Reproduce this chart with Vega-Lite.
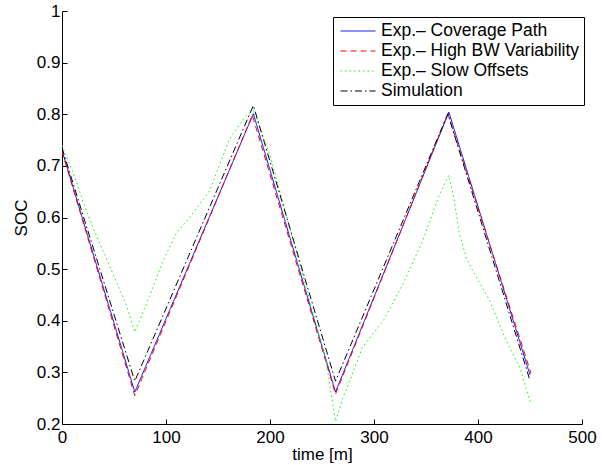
{
  "$schema": "https://vega.github.io/schema/vega-lite/v6.json",
  "width": 520,
  "height": 413,
  "autosize": {"type": "none"},
  "padding": {"left": 62, "top": 11, "right": 20, "bottom": 41},
  "background": "white",
  "config": {
    "view": {"stroke": null},
    "font": "Liberation Sans",
    "axis": {
      "grid": false,
      "domainColor": "black",
      "domainWidth": 1,
      "tickColor": "black",
      "tickWidth": 1,
      "tickSize": -5,
      "labelFont": "Liberation Sans",
      "labelFontSize": 17,
      "labelColor": "black",
      "titleFont": "Liberation Sans",
      "titleFontSize": 17,
      "titleFontWeight": "normal",
      "titleColor": "black"
    }
  },
  "data": {
    "values": [
      {"series": "Exp.– Coverage Path", "t": 0, "soc": 0.73},
      {"series": "Exp.– Coverage Path", "t": 70, "soc": 0.262},
      {"series": "Exp.– Coverage Path", "t": 184, "soc": 0.801},
      {"series": "Exp.– Coverage Path", "t": 263, "soc": 0.262},
      {"series": "Exp.– Coverage Path", "t": 372, "soc": 0.804},
      {"series": "Exp.– Coverage Path", "t": 450, "soc": 0.295},
      {"series": "Exp.– High BW Variability", "t": 0, "soc": 0.728},
      {"series": "Exp.– High BW Variability", "t": 70, "soc": 0.255},
      {"series": "Exp.– High BW Variability", "t": 183, "soc": 0.798},
      {"series": "Exp.– High BW Variability", "t": 263, "soc": 0.258},
      {"series": "Exp.– High BW Variability", "t": 371, "soc": 0.801},
      {"series": "Exp.– High BW Variability", "t": 451, "soc": 0.298},
      {"series": "Exp.– Slow Offsets", "t": 0, "soc": 0.74},
      {"series": "Exp.– Slow Offsets", "t": 10, "soc": 0.69},
      {"series": "Exp.– Slow Offsets", "t": 26, "soc": 0.598},
      {"series": "Exp.– Slow Offsets", "t": 46, "soc": 0.505},
      {"series": "Exp.– Slow Offsets", "t": 62, "soc": 0.43},
      {"series": "Exp.– Slow Offsets", "t": 70, "soc": 0.378},
      {"series": "Exp.– Slow Offsets", "t": 84, "soc": 0.447},
      {"series": "Exp.– Slow Offsets", "t": 97, "soc": 0.515},
      {"series": "Exp.– Slow Offsets", "t": 110, "soc": 0.57},
      {"series": "Exp.– Slow Offsets", "t": 122, "soc": 0.598},
      {"series": "Exp.– Slow Offsets", "t": 132, "soc": 0.625},
      {"series": "Exp.– Slow Offsets", "t": 142, "soc": 0.652},
      {"series": "Exp.– Slow Offsets", "t": 161, "soc": 0.752},
      {"series": "Exp.– Slow Offsets", "t": 176, "soc": 0.795},
      {"series": "Exp.– Slow Offsets", "t": 184, "soc": 0.808},
      {"series": "Exp.– Slow Offsets", "t": 200, "soc": 0.72},
      {"series": "Exp.– Slow Offsets", "t": 238, "soc": 0.44},
      {"series": "Exp.– Slow Offsets", "t": 254, "soc": 0.322},
      {"series": "Exp.– Slow Offsets", "t": 263, "soc": 0.205},
      {"series": "Exp.– Slow Offsets", "t": 270, "soc": 0.25},
      {"series": "Exp.– Slow Offsets", "t": 277, "soc": 0.285},
      {"series": "Exp.– Slow Offsets", "t": 289, "soc": 0.349},
      {"series": "Exp.– Slow Offsets", "t": 309, "soc": 0.4},
      {"series": "Exp.– Slow Offsets", "t": 328, "soc": 0.472},
      {"series": "Exp.– Slow Offsets", "t": 347, "soc": 0.556},
      {"series": "Exp.– Slow Offsets", "t": 363, "soc": 0.645},
      {"series": "Exp.– Slow Offsets", "t": 372, "soc": 0.682},
      {"series": "Exp.– Slow Offsets", "t": 377, "soc": 0.635},
      {"series": "Exp.– Slow Offsets", "t": 382, "soc": 0.569},
      {"series": "Exp.– Slow Offsets", "t": 389, "soc": 0.52},
      {"series": "Exp.– Slow Offsets", "t": 395, "soc": 0.497},
      {"series": "Exp.– Slow Offsets", "t": 411, "soc": 0.44},
      {"series": "Exp.– Slow Offsets", "t": 427, "soc": 0.362},
      {"series": "Exp.– Slow Offsets", "t": 440, "soc": 0.31},
      {"series": "Exp.– Slow Offsets", "t": 451, "soc": 0.238},
      {"series": "Simulation", "t": 0, "soc": 0.735},
      {"series": "Simulation", "t": 70, "soc": 0.283},
      {"series": "Simulation", "t": 184, "soc": 0.817},
      {"series": "Simulation", "t": 263, "soc": 0.283},
      {"series": "Simulation", "t": 371, "soc": 0.801},
      {"series": "Simulation", "t": 450, "soc": 0.284}
    ]
  },
  "mark": {"type": "line", "strokeWidth": 1, "clip": true},
  "encoding": {
    "x": {
      "field": "t",
      "type": "quantitative",
      "scale": {"domain": [0, 500], "nice": false, "zero": false},
      "axis": {"values": [0, 100, 200, 300, 400, 500], "title": "time [m]", "labelPadding": 10, "titlePadding": 1, "labelFlush": false}
    },
    "y": {
      "field": "soc",
      "type": "quantitative",
      "scale": {"domain": [0.2, 1], "nice": false, "zero": false},
      "axis": {"values": [0.2, 0.3, 0.4, 0.5, 0.6, 0.7, 0.8, 0.9, 1], "format": "~g", "title": "SOC", "labelPadding": 7, "titlePadding": 6, "labelFlush": false}
    },
    "color": {
      "field": "series",
      "type": "nominal",
      "scale": {
        "domain": ["Exp.– Coverage Path", "Exp.– High BW Variability", "Exp.– Slow Offsets", "Simulation"],
        "range": ["#0000ff", "#ff0000", "#00ff00", "#000000"]
      },
      "legend": {
        "orient": "none", "legendX": 271, "legendY": 6, "title": null,
        "symbolType": "stroke", "symbolSize": 1225, "symbolStrokeWidth": 1,
        "symbolOffset": 3, "clipHeight": 20,
        "labelFont": "Liberation Sans", "labelFontSize": 17.5, "labelColor": "black",
        "labelOffset": 5, "labelLimit": 400, "strokeColor": "black", "fillColor": "white",
        "padding": 4, "rowPadding": 0, "cornerRadius": 0
      }
    },
    "strokeDash": {
      "field": "series",
      "type": "nominal",
      "scale": {
        "domain": ["Exp.– Coverage Path", "Exp.– High BW Variability", "Exp.– Slow Offsets", "Simulation"],
        "range": [[1, 0], [6, 4], [1.5, 3], [7, 3, 1.5, 3]]
      },
      "legend": {
        "orient": "none", "legendX": 271, "legendY": 6, "title": null,
        "symbolType": "stroke", "symbolSize": 1225, "symbolStrokeWidth": 1,
        "symbolOffset": 3, "clipHeight": 20,
        "labelFont": "Liberation Sans", "labelFontSize": 17.5, "labelColor": "black",
        "labelOffset": 5, "labelLimit": 400, "strokeColor": "black", "fillColor": "white",
        "padding": 4, "rowPadding": 0, "cornerRadius": 0
      }
    }
  }
}
